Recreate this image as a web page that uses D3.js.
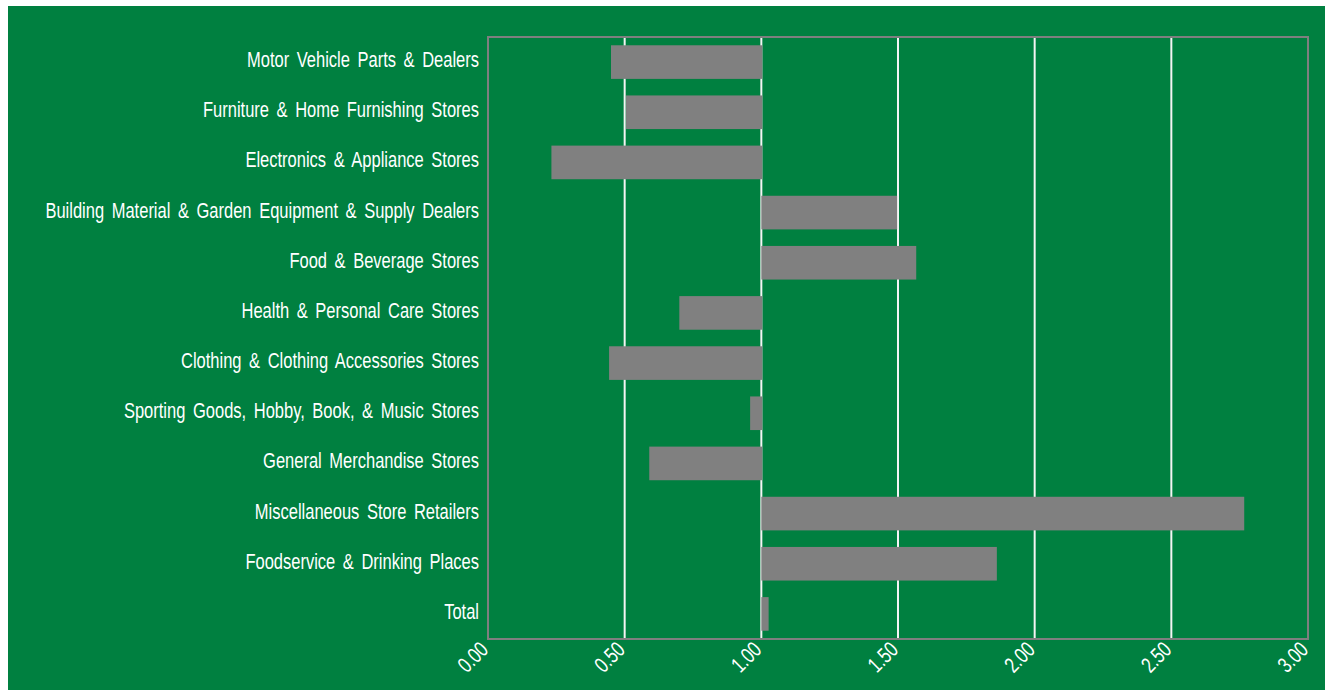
<!DOCTYPE html>
<html>
<head>
<meta charset="utf-8">
<script src="https://cdn.jsdelivr.net/npm/d3@7"></script>
<style>
  html, body { margin: 0; padding: 0; background: #ffffff; }
  svg { display: block; }
</style>
</head>
<body>
<div id="chart"></div>
<script>
// categories, top to bottom
const categories = [
  "Motor Vehicle Parts & Dealers",
  "Furniture & Home Furnishing Stores",
  "Electronics & Appliance Stores",
  "Building Material & Garden Equipment & Supply Dealers",
  "Food & Beverage Stores",
  "Health & Personal Care Stores",
  "Clothing & Clothing Accessories Stores",
  "Sporting Goods, Hobby, Book, & Music Stores",
  "General Merchandise Stores",
  "Miscellaneous Store Retailers",
  "Foodservice & Drinking Places",
  "Total"
];
// ratio values (bars drawn from the 1.00 baseline)
const ratios = [0.45, 0.505, 0.232, 1.493, 1.563, 0.70, 0.443, 0.959, 0.59, 2.763, 1.858, 1.023];
const tickValues = [0, 0.5, 1, 1.5, 2, 2.5, 3];
const baseline = 1;

const W = 1325, H = 690;
const bg = { left: 8, top: 6 };
const margin = { top: 37, right: 16, bottom: 51, left: 488 };

const svg = d3.select("#chart")
  .append("svg")
  .attr("width", W)
  .attr("height", H);

// green panel
svg.append("rect")
  .attr("x", bg.left)
  .attr("y", bg.top)
  .attr("width", W - bg.left)
  .attr("height", H - bg.top)
  .attr("fill", "#008040");

const x = d3.scaleLinear()
  .domain([0, 3])
  .range([margin.left, W - margin.right - 1]);

const y = d3.scaleBand()
  .domain(categories)
  .range([margin.top, H - margin.bottom])
  .paddingInner(0.33)
  .paddingOuter(0.165);

// condensed look: regular sans squeezed horizontally
const font = "'Liberation Sans', Arial, sans-serif";
const squeeze = 0.75;

// vertical gridlines
svg.append("g")
  .selectAll("line")
  .data(tickValues.slice(1, -1))
  .join("line")
  .attr("x1", d => x(d))
  .attr("x2", d => x(d))
  .attr("y1", margin.top)
  .attr("y2", H - margin.bottom)
  .attr("stroke", "#f4f4f4")
  .attr("stroke-width", 2);

// bars from the baseline
svg.append("g")
  .selectAll("rect")
  .data(categories.map((c, i) => ({ c, v: ratios[i] })))
  .join("rect")
  .attr("x", d => x(Math.min(d.v, baseline)))
  .attr("y", d => y(d.c))
  .attr("width", d => Math.abs(x(d.v) - x(baseline)) + 1)
  .attr("height", y.bandwidth())
  .attr("fill", "#808080");

// plot border
svg.append("rect")
  .attr("x", margin.left)
  .attr("y", margin.top)
  .attr("width", x(3) - x(0))
  .attr("height", H - margin.bottom - margin.top)
  .attr("fill", "none")
  .attr("stroke", "#7f7f7f")
  .attr("stroke-width", 2);

// category labels
svg.append("g")
  .selectAll("text")
  .data(categories)
  .join("text")
  .attr("transform", d => `translate(${margin.left - 9},${y(d) + y.bandwidth() / 2 + 5}) scale(${squeeze},1)`)
  .attr("text-anchor", "end")
  .attr("fill", "#ffffff")
  .style("font-family", font)
  .style("font-size", "22px")
  .style("word-spacing", "4px")
  .text(d => d);

// x tick labels, rotated
const xAxis = svg.append("g")
  .attr("transform", `translate(0,${H - margin.bottom})`)
  .call(d3.axisBottom(x).tickValues(tickValues).tickFormat(d3.format(".2f")).tickSize(0));
xAxis.select(".domain").remove();
xAxis.selectAll("text")
  .attr("fill", "#ffffff")
  .attr("text-anchor", "end")
  .attr("dy", null)
  .attr("y", 0)
  .attr("transform", `translate(1,12) rotate(-45) scale(${squeeze},1)`)
  .style("font-family", font)
  .style("font-size", "22px");
</script>
</body>
</html>
